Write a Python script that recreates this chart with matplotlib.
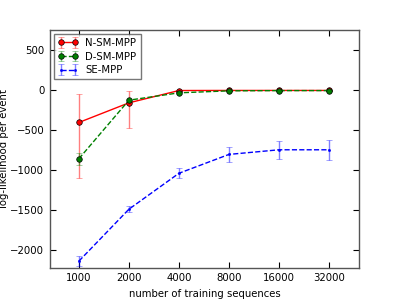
import matplotlib
matplotlib.use('Agg')
import matplotlib.pyplot as plt
import numpy as np

sizes = [1000, 2000, 4000, 8000, 16000, 32000]

nsm_mean = [-404, -158, -4, -3, -3, -3]
nsm_err_lo = [700, 321, 10, 8, 8, 8]
nsm_err_hi = [358, 150, 10, 8, 8, 8]

dsm_mean = [-858, -125, -33, -8, -5, -5]
dsm_err = [73, 20, 10, 6, 5, 5]

se_mean = [-2140, -1490, -1040, -804, -746, -746]
se_err = [60, 35, 62, 98, 112, 128]

yticks = [500, 0, -500, -1000, -1500, -2000]

plt.rcParams['font.family'] = 'DejaVu Sans'
plt.rcParams['font.size'] = 7.3

fig = plt.figure(figsize=(3.99, 2.99), dpi=100)
ax = fig.add_axes([0.125, 0.104, 0.775, 0.796])

x = np.arange(len(sizes))


def draw(y, err, color, fmt, ms, label):
    eb = ax.errorbar(x, y, yerr=err, fmt=fmt, color=color, ecolor=color,
                     ms=ms, mec='k' if fmt.startswith('o') else color,
                     mew=0.5, lw=1, elinewidth=1, capsize=2.5, capthick=1,
                     label=label)
    for c in eb[1]:
        c.set_alpha(0.5)
    for c in eb[2]:
        c.set_alpha(0.5)
    return eb


draw(nsm_mean, [nsm_err_lo, nsm_err_hi], 'red', 'o-', 4, 'N-SM-MPP')
draw(dsm_mean, dsm_err, 'green', 'o--', 4, 'D-SM-MPP')
draw(se_mean, se_err, 'blue', '.--', 3, 'SE-MPP')

ax.set_xlim(-0.58, 5.6)
ax.set_ylim(-2225, 755)
ax.set_xticks(x)
ax.set_xticklabels([str(s) for s in sizes])
ax.set_yticks(yticks)
ax.tick_params(direction='in', top=True, right=True, length=4, width=0.8, pad=4)
for s in ax.spines.values():
    s.set_linewidth(1)
    s.set_color('#555555')

ax.set_xlabel('number of training sequences')
ax.set_ylabel('log-likelihood per event', labelpad=0.5)

leg = ax.legend(loc='upper left', fancybox=False, numpoints=2,
                borderaxespad=0.4, handlelength=2.0, handletextpad=0.7,
                labelspacing=0.35)
leg.get_frame().set_edgecolor('#555555')

fig.savefig('out.png', dpi=100)
